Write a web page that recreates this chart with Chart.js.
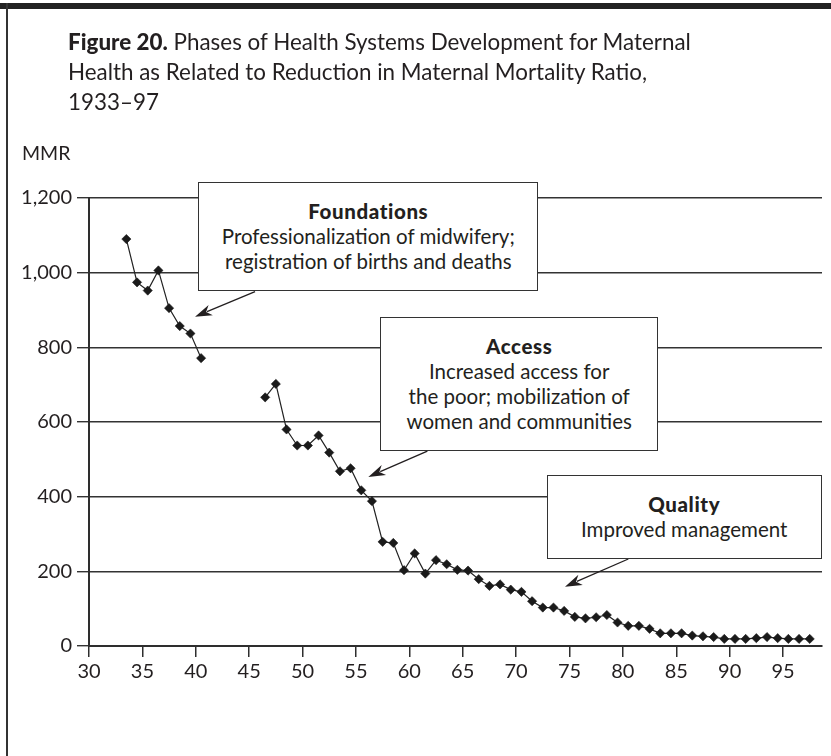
<!DOCTYPE html>
<html><head><meta charset="utf-8">
<script src="https://cdn.jsdelivr.net/npm/chart.js@4/dist/chart.umd.min.js"></script>
<style>
html,body{margin:0;padding:0;background:#fff;}
#wrap{position:relative;width:831px;height:756px;overflow:hidden;font-family:Lato, "Open Sans", sans-serif;color:#231f20;}
#topbar{position:absolute;left:0;top:3px;width:831px;height:6px;background:#222;}
#leftbar{position:absolute;left:6px;top:3px;width:2px;height:753px;background:#333;}
#title{position:absolute;left:68px;top:27px;font-size:22.4px;line-height:30px;white-space:nowrap;}
#title b{font-weight:900;}
#ylab{position:absolute;left:22px;top:144px;font-size:19.5px;line-height:18px;}
canvas{position:absolute;left:0;top:0;}
.note{position:absolute;background:#fff;border:1.5px solid #333;box-sizing:border-box;text-align:center;font-size:20.5px;line-height:25px;display:flex;flex-direction:column;justify-content:center;white-space:nowrap;}
.note b{font-weight:900;letter-spacing:0.6px;}
</style></head>
<body>
<div id="wrap">
  <canvas id="c" width="831" height="756"></canvas>
  <div id="topbar"></div>
  <div id="leftbar"></div>
  <div id="title"><b>Figure 20.</b> Phases of Health Systems Development for Maternal<br>Health as Related to Reduction in Maternal Mortality Ratio,<br>1933–97</div>
  <div id="ylab">MMR</div>
</div>
<script>
// ---- data ----
const years = [1933,1934,1935,1936,1937,1938,1939,1940,1941,1942,1943,1944,1945,
  1946,1947,1948,1949,1950,1951,1952,1953,1954,1955,1956,1957,1958,1959,
  1960,1961,1962,1963,1964,1965,1966,1967,1968,1969,1970,1971,1972,1973,1974,
  1975,1976,1977,1978,1979,1980,1981,1982,1983,1984,1985,1986,1987,1988,1989,
  1990,1991,1992,1993,1994,1995,1996,1997];
const mmr = [1090,974,952,1006,905,857,837,771,null,null,null,null,null,
  666,702,580,537,537,564,518,468,476,417,388,279,276,203,
  248,194,230,219,204,202,179,161,165,151,145,120,103,103,94,
  78,74,77,83,63,54,54,46,34,34,34,28,26,24,19,
  19,19,21,24,21,19,19,19];
const xTickValues = [1930,1935,1940,1945,1950,1955,1960,1965,1970,1975,1980,1985,1990,1995];
const xTickLabels = ['30','35','40','45','50','55','60','65','70','75','80','85','90','95'];
const yTickValues = [0,200,400,600,800,1000,1200];
const yTickLabels = ['0','200','400','600','800','1,000','1,200'];

// annotation boxes (data coordinates)
const notes = [
  {title:'Foundations', lines:['Professionalization of midwifery;','registration of births and deaths'],
   box:[1940.24,1242,1972.08,952], from:[1945.55,949], tip:[1939.93,882]},
  {title:'Access', lines:['Increased access for','the poor; mobilization of','women and communities'],
   box:[1957.26,882,1983.32,523], from:[1961.69,522], tip:[1956.16,453]},
  {title:'Quality', lines:['Improved management'],
   box:[1972.87,458,1998.62,233], from:[1980.51,233], tip:[1974.58,159]}
];

const ink = '#231f20';
const arrows = {
  id:'arrows',
  afterDatasetsDraw(chart){
    const ctx = chart.ctx, xs = chart.scales.x, ys = chart.scales.y;
    ctx.save();
    ctx.strokeStyle = ink; ctx.fillStyle = ink; ctx.lineWidth = 1.3;
    notes.forEach(n=>{
      const x0 = xs.getPixelForValue(n.from[0]), y0 = ys.getPixelForValue(n.from[1]);
      const x1 = xs.getPixelForValue(n.tip[0]), y1 = ys.getPixelForValue(n.tip[1]);
      const a = Math.atan2(y1-y0, x1-x0);
      const hl = 17, hw = 5.5;
      const bx = x1 - hl*Math.cos(a), by = y1 - hl*Math.sin(a);
      ctx.beginPath(); ctx.moveTo(x0,y0); ctx.lineTo(bx + 4*Math.cos(a), by + 4*Math.sin(a)); ctx.stroke();
      ctx.beginPath();
      ctx.moveTo(x1,y1);
      ctx.lineTo(bx - hw*Math.sin(a), by + hw*Math.cos(a));
      ctx.lineTo(x1 - (hl-5)*Math.cos(a), y1 - (hl-5)*Math.sin(a));
      ctx.lineTo(bx + hw*Math.sin(a), by - hw*Math.cos(a));
      ctx.closePath(); ctx.fill();
    });
    ctx.restore();
  }
};

const tickFont = {family:'Lato, "Open Sans", sans-serif', size:20};
const chart = new Chart(document.getElementById('c'), {
  type:'line',
  data:{datasets:[{
    data: years.map((yr,i)=>({x: yr + 0.5, y: mmr[i]})),
    borderColor:'#222', borderWidth:1.2, tension:0, spanGaps:false,
    pointStyle:'rectRot', pointRadius:4.6, pointBorderWidth:0.6,
    pointBackgroundColor:'#1a1a1a', pointBorderColor:'#1a1a1a'
  }]},
  options:{
    responsive:false, animation:false, devicePixelRatio:1,
    layout:{padding:{top:198,right:9,bottom:70,left:0}},
    plugins:{legend:{display:false}, tooltip:{enabled:false}, title:{display:false}},
    scales:{
      x:{type:'linear', min:1930, max:1998.65,
        afterFit(s){ s.height = 40; },
        afterBuildTicks(s){ s.ticks = xTickValues.map(v=>({value:v})); },
        ticks:{color:ink, font:tickFont, padding:3, maxRotation:0, autoSkip:false,
          callback:(v,i)=>xTickLabels[i]},
        grid:{drawOnChartArea:false, drawTicks:true, tickLength:11, color:'#2e2e2e', lineWidth:1.5},
        border:{display:true, color:'#2e2e2e', width:2}
      },
      y:{type:'linear', min:0, max:1200,
        afterFit(s){ s.width = 89; },
        afterBuildTicks(s){ s.ticks = yTickValues.map(v=>({value:v})); },
        ticks:{color:ink, font:tickFont, padding:5, autoSkip:false,
          callback:(v,i)=>yTickLabels[i]},
        grid:{drawOnChartArea:true, drawTicks:true, tickLength:12, color:'#333', lineWidth:1.4},
        border:{display:true, color:'#2e2e2e', width:2}
      }
    }
  },
  plugins:[arrows]
});

// HTML annotation boxes positioned through the chart's scales
const wrap = document.getElementById('wrap');
notes.forEach(n=>{
  const xs = chart.scales.x, ys = chart.scales.y;
  const l = xs.getPixelForValue(n.box[0]), r = xs.getPixelForValue(n.box[2]);
  const t = ys.getPixelForValue(n.box[1]), b = ys.getPixelForValue(n.box[3]);
  const d = document.createElement('div');
  d.className = 'note';
  d.style.left = l+'px'; d.style.top = t+'px';
  d.style.width = (r-l)+'px'; d.style.height = (b-t)+'px';
  const h = document.createElement('b'); h.textContent = n.title; d.appendChild(h);
  n.lines.forEach(s=>{ const p = document.createElement('span'); p.textContent = s; d.appendChild(p); });
  wrap.appendChild(d);
});
</script>
</body></html>
